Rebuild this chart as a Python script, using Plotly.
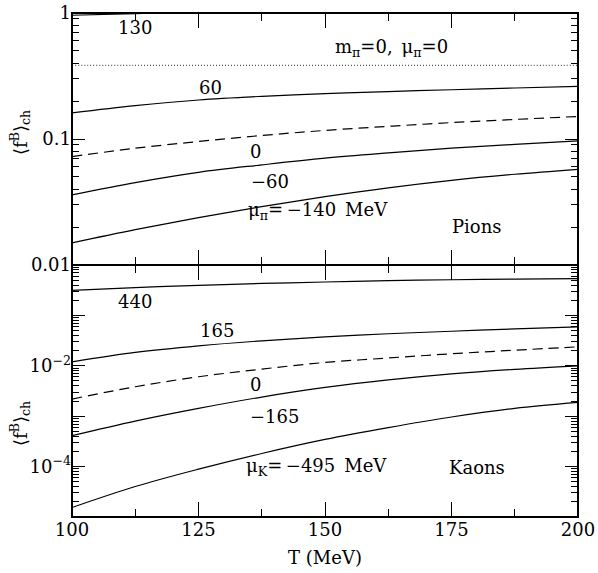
import math
import plotly.graph_objects as go
from plotly.subplots import make_subplots

# ---- data ----
T = [100, 112.5, 125, 137.5, 150, 162.5, 175, 187.5, 200]

# Pions (top panel)
pi_130 = [0.96, 0.99, 1.02, 1.05, 1.08, 1.11, 1.14, 1.17, 1.2]
pi_60 = [0.161, 0.184, 0.204, 0.218, 0.229, 0.238, 0.246, 0.254, 0.262]
pi_0 = [0.0725, 0.0845, 0.0955, 0.1066, 0.117, 0.126, 0.135, 0.143, 0.151]
pi_m60 = [0.0360, 0.0451, 0.0544, 0.0623, 0.0705, 0.0776, 0.0846, 0.0906, 0.0968]
pi_m140 = [0.0150, 0.0191, 0.0238, 0.0291, 0.0349, 0.0410, 0.0470, 0.0525, 0.0575]
pi_massless = [0.384] * len(T)

# Kaons (bottom panel)
k_440 = [0.315, 0.356, 0.395, 0.43, 0.46, 0.488, 0.51, 0.525, 0.537]
k_165 = [0.0120, 0.0184, 0.0249, 0.0313, 0.0375, 0.0432, 0.0485, 0.0540, 0.0592]
k_0 = [0.00219, 0.00384, 0.00606, 0.0086, 0.01164, 0.0143, 0.0173, 0.0204, 0.0238]
k_m165 = [4.11e-4, 8.0e-4, 1.43e-3, 2.40e-3, 3.72e-3, 5.25e-3, 6.92e-3, 8.51e-3, 1.0e-2]
k_m495 = [1.54e-5, 4.02e-5, 8.89e-5, 1.82e-4, 3.46e-4, 5.94e-4, 9.64e-4, 1.43e-3, 1.88e-3]

top_ticks = [0.01, 0.1, 1]
top_ticktext = ["0.01", "0.1", "1"]
bot_ticks = [1e-5, 1e-4, 1e-3, 1e-2, 1e-1, 1]
bot_ticktext = ["", "10<sup>\u22124</sup>", "", "10<sup>\u22122</sup>", "", ""]

FONT = "DejaVu Serif"
BLACK = "black"

fig = make_subplots(rows=2, cols=1, shared_xaxes=False, vertical_spacing=0)

solid = dict(color=BLACK, width=1.2)
dashed = dict(color=BLACK, width=1.2, dash="10px,6px")
dotted = dict(color="#555555", width=1.2, dash="1px,2px")

for y, ln in [(pi_130, solid), (pi_massless, dotted), (pi_60, solid), (pi_0, dashed),
              (pi_m60, solid), (pi_m140, solid)]:
    fig.add_trace(go.Scatter(x=T, y=y, mode="lines", line=ln, line_shape="spline",
                             showlegend=False, hoverinfo="skip"), row=1, col=1)

for y, ln in [(k_440, solid), (k_165, solid), (k_0, dashed), (k_m165, solid), (k_m495, solid)]:
    fig.add_trace(go.Scatter(x=T, y=y, mode="lines", line=ln, line_shape="spline",
                             showlegend=False, hoverinfo="skip"), row=2, col=1)


def minor_log(lo, hi):
    vals = []
    for n in range(lo, hi):
        for k in range(2, 10):
            vals.append(k * 10 ** n)
    return vals


xcommon = dict(range=[100, 200], ticks="inside", ticklen=15, tickwidth=1, tickcolor=BLACK,
               showline=False, mirror="allticks", automargin=False,
               tick0=100, dtick=25, showgrid=False, zeroline=False,
               minor=dict(ticks="inside", ticklen=8, dtick=12.5, tick0=100, tickcolor=BLACK, showgrid=False),
               tickfont=dict(family=FONT, size=18, color=BLACK))

fig.update_xaxes(**xcommon, showticklabels=False, row=1, col=1)
fig.update_xaxes(**xcommon, showticklabels=True, row=2, col=1,
                 title=dict(text="T (MeV)", font=dict(family=FONT, size=18, color=BLACK), standoff=12))

ycommon = dict(type="log", ticks="inside", ticklen=13, tickwidth=1, tickcolor=BLACK,
               showline=False, mirror="allticks", automargin=False,
               showgrid=False, zeroline=False,
               tickfont=dict(family=FONT, size=18, color=BLACK))

fig.update_yaxes(**ycommon, range=[-2, 0], tickvals=top_ticks, ticktext=top_ticktext,
                 minor=dict(ticks="inside", ticklen=7, tickvals=minor_log(-2, 0), tickcolor=BLACK, showgrid=False),
                 row=1, col=1)
fig.update_yaxes(**ycommon, range=[-5, 0], tickvals=bot_ticks, ticktext=bot_ticktext,
                 minor=dict(ticks="inside", ticklen=7, tickvals=minor_log(-5, 0), tickcolor=BLACK, showgrid=False),
                 row=2, col=1)

# frame
fig.add_shape(type="rect", xref="paper", yref="paper", x0=0, x1=1, y0=0, y1=1,
              line=dict(color=BLACK, width=2), layer="above")
fig.add_shape(type="line", xref="paper", yref="paper", x0=0, x1=1, y0=0.5, y1=0.5,
              line=dict(color=BLACK, width=2), layer="above")


def lab(x, y, text, xref, yref, size=18):
    fig.add_annotation(x=x, y=y, xref=xref, yref=yref, text=text, showarrow=False,
                       xanchor="center", yanchor="middle",
                       font=dict(family=FONT, size=size, color=BLACK))


# top panel labels
lab(112.5, math.log10(0.767), "130", "x", "y")
lab(163.2, math.log10(0.53), "m<sub>\u03c0</sub>=0,\u2002\u03bc<sub>\u03c0</sub>=0", "x", "y")
lab(127.3, math.log10(0.258), "60", "x", "y")
lab(136.2, math.log10(0.080), "0", "x", "y")
lab(139.1, math.log10(0.0457), "\u221260", "x", "y")
lab(148.6, math.log10(0.0267), "\u03bc<sub>\u03c0</sub>=\u2009\u2212140\u2002MeV", "x", "y")
lab(180, math.log10(0.0201), "Pions", "x", "y")
# bottom panel labels
lab(112.5, math.log10(0.19), "440", "x2", "y2")
lab(128.6, math.log10(0.0493), "165", "x2", "y2")
lab(136.2, math.log10(0.00427), "0", "x2", "y2")
lab(140.1, math.log10(1.0e-3), "\u2212165", "x2", "y2")
lab(148.4, math.log10(1.0e-4), "\u03bc<sub>K</sub>=\u2009\u2212495\u2002MeV", "x2", "y2")
lab(180, math.log10(9.7e-5), "Kaons", "x2", "y2")

# y-axis titles
for yp in [(517 - 133) / 504, (517 - 424) / 504]:
    fig.add_annotation(x=(20 - 72) / 506, y=yp, xref="paper", yref="paper", textangle=-90,
                       xanchor="center", yanchor="middle",
                       text="\u27e8f<sup>B</sup>\u27e9<sub>ch</sub>", showarrow=False,
                       font=dict(family=FONT, size=18, color=BLACK))

fig.update_layout(width=598, height=573, margin=dict(l=72, r=20, t=13, b=56),
                  paper_bgcolor="white", plot_bgcolor="white")

fig.write_html("out.html")
